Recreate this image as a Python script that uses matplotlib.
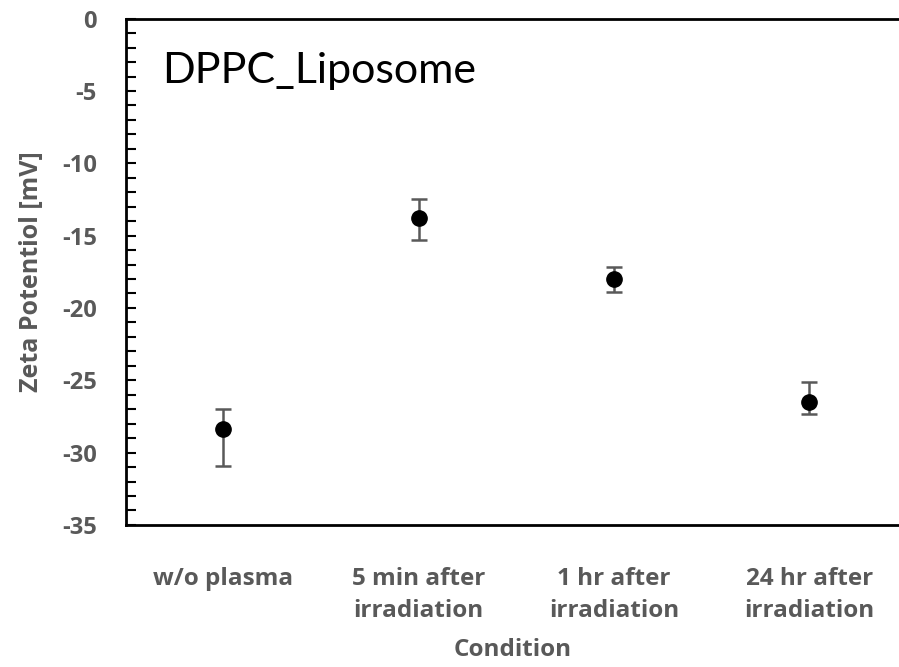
import matplotlib.pyplot as plt
from matplotlib.ticker import MultipleLocator

# data
conditions = ["w/o plasma", "5 min after\nirradiation", "1 hr after\nirradiation", "24 hr after\nirradiation"]
zeta = [-28.4, -13.8, -18.0, -26.5]
err_low = [2.5, 1.5, 0.9, 0.8]
err_high = [1.4, 1.3, 0.8, 1.4]

plt.rcParams['font.family'] = ['Open Sans', 'DejaVu Sans']
plt.rcParams['axes.unicode_minus'] = False
gray = '#595959'

fig = plt.figure(figsize=(8.99, 6.67), dpi=100)
ax = fig.add_axes([0.140, 0.213, 0.860, 0.759])

x = list(range(len(conditions)))
ax.errorbar(x, zeta, yerr=[err_low, err_high], fmt='o', color='black',
            markersize=11, ecolor=gray, elinewidth=1.8, capsize=6, capthick=1.8)

# the plot area runs off the right edge, so the last category sits a bit past centre
ax.set_xlim(-0.5, 3.46)
ax.set_ylim(-35, 0)
ax.yaxis.set_major_locator(MultipleLocator(5))
ax.yaxis.set_minor_locator(MultipleLocator(1))
ax.set_xticks(x)
ax.set_xticklabels(conditions, fontsize=17.5, fontweight='bold', color=gray, linespacing=1.45)
for lab in ax.get_yticklabels():
    lab.set_fontweight('bold')
ax.tick_params(axis='y', which='both', direction='in', length=7, width=1.5, labelsize=17,
               labelcolor=gray, pad=21)
ax.tick_params(axis='x', length=0, pad=30)

ax.spines['right'].set_visible(False)
for s in ['left', 'bottom', 'top']:
    ax.spines[s].set_linewidth(2)
    ax.spines[s].set_color('black')

ax.set_xlabel("Condition", fontsize=17.5, fontweight='bold', color=gray, labelpad=11)
ax.set_ylabel("Zeta Potentiol [mV]", fontsize=18, fontweight='bold', color=gray, labelpad=13)

ax.text(0.047, 0.935, "DPPC_Liposome", transform=ax.transAxes, fontsize=31,
        color='black', va='top', ha='left', family=['Lato', 'DejaVu Sans'])

fig.savefig("out.png", dpi=100)
